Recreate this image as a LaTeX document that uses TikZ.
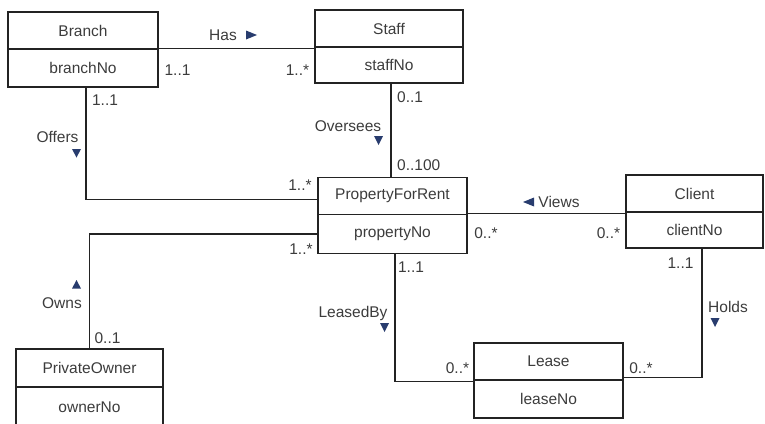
\documentclass[tikz,border=0pt]{standalone}
\usepackage{fontspec}
\setmainfont{Liberation Sans}
\definecolor{linec}{RGB}{35,35,35}
\definecolor{textc}{RGB}{60,60,60}
\definecolor{navy}{RGB}{40,60,110}
\begin{document}
\begin{tikzpicture}[x=1pt,y=-1pt,
  part/.style={draw=linec, line width=1.3pt, inner sep=0pt, text=textc,
    font=\fontsize{15.5}{18}\selectfont},
  lbl/.style={inner sep=0pt, text=textc, font=\fontsize{15.5}{18}\selectfont},
  conn/.style={draw=linec, line width=1.2pt},
  tri/.style={fill=navy}]
\useasboundingbox (0,0) rectangle (765,423);
\clip (0,0) rectangle (765,423);
% classes
\node[part, minimum width=150pt, minimum height=37pt] (branch) at (83,30.5) {Branch};
\node[part, minimum width=150pt, minimum height=38pt] (branchNo) at (83,68) {branchNo};
\node[part, minimum width=148pt, minimum height=37pt] (staff) at (389,28.5) {Staff};
\node[part, minimum width=148pt, minimum height=36pt] (staffNo) at (389,65) {staffNo};
\node[part, minimum width=149pt, minimum height=37pt] (pfr) at (392.5,196) {PropertyForRent};
\node[part, minimum width=149pt, minimum height=39pt] (pfrNo) at (392.5,234) {propertyNo};
\node[part, minimum width=137pt, minimum height=37pt] (client) at (694.5,193.5) {Client};
\node[part, minimum width=137pt, minimum height=36pt] (clientNo) at (694.5,230) {clientNo};
\node[part, minimum width=149pt, minimum height=37pt] (lease) at (548.5,361.5) {Lease};
\node[part, minimum width=149pt, minimum height=38pt] (leaseNo) at (548.5,399) {leaseNo};
\node[part, minimum width=147pt, minimum height=38pt] (owner) at (89.5,368) {PrivateOwner};
\node[part, minimum width=147pt, minimum height=40pt] (ownerNo) at (89.5,407) {ownerNo};
% connectors
\draw[conn] (branchNo.north east) -- (branchNo.north east -| staff.west);
\coordinate (offTop) at ([xshift=3pt]branchNo.south);
\coordinate (offEnd) at ([yshift=-3.5pt]pfr.west);
\draw[conn] (offTop) |- (offEnd);
\coordinate (ovTop) at ([xshift=2pt]staffNo.south);
\draw[conn] (ovTop) -- (ovTop |- pfr.north);
\draw[conn] (pfrNo.north east) -- (pfrNo.north east -| client.west);
\draw[conn] (pfrNo.west) -| (owner.north);
\coordinate (lbTop) at ([xshift=2.5pt]pfrNo.south);
\coordinate (lbEnd) at ([yshift=-2pt]leaseNo.north west);
\draw[conn] (lbTop) |- (lbEnd);
\coordinate (hoTop) at ([xshift=7.5pt]clientNo.south);
\coordinate (hoEnd) at ([yshift=2pt]leaseNo.north east);
\draw[conn] (hoTop) |- (hoEnd);
% association names
\node[lbl] (hasL) at (223,35) {Has};
\fill[tri] (246,30.5) -- (246,39.5) -- (257,35) -- cycle;
\node[lbl] (offersL) at (57.5,137) {Offers};
\fill[tri] (72,149) -- (81,149) -- (76.5,157.5) -- cycle;
\node[lbl] (overseesL) at (348,126) {Oversees};
\fill[tri] (374,136) -- (383,136) -- (378.5,145) -- cycle;
\fill[tri] (534,197.5) -- (534,206.5) -- (523,202) -- cycle;
\node[lbl] (viewsL) at (559,202) {Views};
\fill[tri] (72,288.5) -- (81,288.5) -- (76.5,280) -- cycle;
\node[lbl] (ownsL) at (62,303) {Owns};
\node[lbl] (leasedL) at (353,313) {LeasedBy};
\fill[tri] (380,323) -- (389,323) -- (384.5,332) -- cycle;
\node[lbl] (holdsL) at (728,307) {Holds};
\fill[tri] (710.5,318) -- (719.5,318) -- (715,327) -- cycle;
% multiplicities
\node[lbl] (m1) at (177.5,70) {1..1};
\node[lbl] (m2) at (297.5,70) {1..*};
\node[lbl] (m3) at (105,100) {1..1};
\node[lbl] (m4) at (300,185) {1..*};
\node[lbl, anchor=west] (m5) at (397,97) {0..1};
\node[lbl, anchor=west] (m6) at (397,165) {0..100};
\node[lbl] (m7) at (486,233) {0..*};
\node[lbl] (m8) at (608.5,233) {0..*};
\node[lbl] (m9) at (301,249) {1..*};
\node[lbl] (m10) at (107.5,338) {0..1};
\node[lbl] (m11) at (411,267) {1..1};
\node[lbl] (m12) at (680.5,263) {1..1};
\node[lbl] (m13) at (457.5,368) {0..*};
\node[lbl] (m14) at (641,368) {0..*};
\end{tikzpicture}
\end{document}
